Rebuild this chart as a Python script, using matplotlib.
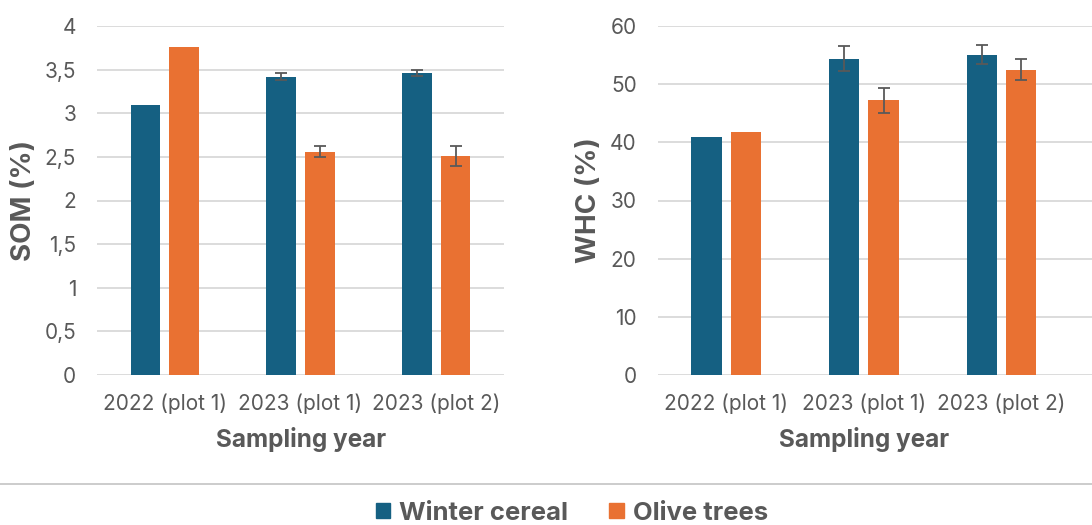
import matplotlib
matplotlib.use("Agg")
import matplotlib.pyplot as plt
import numpy as np
from matplotlib.lines import Line2D
from matplotlib.patches import Rectangle

categories = ["2022 (plot 1)", "2023 (plot 1)", "2023 (plot 2)"]
series = ["Winter cereal", "Olive trees"]
colors = ["#156082", "#E97132"]

som_winter = [3.10, 3.42, 3.46]
som_winter_err = [0, 0.04, 0.035]
som_olive = [3.76, 2.56, 2.51]
som_olive_err = [0, 0.06, 0.11]
som_ticks = [0, 0.5, 1, 1.5, 2, 2.5, 3, 3.5, 4]
som_ticklabels = ["0", "0,5", "1", "1,5", "2", "2,5", "3", "3,5", "4"]

whc_winter = [40.9, 54.4, 55.1]
whc_winter_err = [0, 2.2, 1.6]
whc_olive = [41.8, 47.2, 52.5]
whc_olive_err = [0, 2.1, 1.8]
whc_ticks = [0, 10, 20, 30, 40, 50, 60]
whc_ticklabels = ["0", "10", "20", "30", "40", "50", "60"]

plt.rcParams['font.family'] = ['Inter', 'DejaVu Sans']
TXT = "#595959"
GRID = "#d9d9d9"

W, H = 1092, 525
fig = plt.figure(figsize=(W / 100, H / 100), dpi=100)

def px_axes(x0, x1, ytop, ybot):
    return fig.add_axes([x0 / W, 1 - ybot / H, (x1 - x0) / W, (ybot - ytop) / H])

def draw(ax, winter, werr, olive, oerr, ticks, ticklabels, ylabel, ymax, xr,
         ylab_x, xlab_x):
    x = np.arange(len(categories))
    bw = 0.22
    off = 0.143
    ax.bar(x - off, winter, bw, color=colors[0], zorder=3)
    ax.bar(x + off, olive, bw, color=colors[1], zorder=3)
    for xs, vals, errs in [(x - off, winter, werr), (x + off, olive, oerr)]:
        for xi, v, e in zip(xs, vals, errs):
            if e > 0:
                ax.errorbar(xi, v, yerr=e, fmt='none', ecolor="#595959",
                            elinewidth=1.3, capsize=4, capthick=1.3, zorder=4)
    ax.set_ylim(0, ymax)
    ax.set_xlim(-0.5, xr)
    ax.set_yticks(ticks)
    ax.set_yticklabels(ticklabels)
    ax.set_xticks(x)
    ax.set_xticklabels(categories)
    for s in ax.spines.values():
        s.set_visible(False)
    ax.grid(axis='y', color=GRID, linewidth=1.3, zorder=0)
    ax.tick_params(axis='both', length=0, colors=TXT, labelsize=15)
    ax.tick_params(axis='y', pad=15)
    ax.tick_params(axis='x', pad=13)
    ax.set_ylabel(ylabel, fontsize=20, fontweight='bold', color=TXT)
    ax.set_xlabel("Sampling year", fontsize=17.5, fontweight='bold', color=TXT)
    ax.yaxis.set_label_coords(ylab_x, 0.5)
    ax.xaxis.set_label_coords(xlab_x, -0.186)
    ax.xaxis.label.set_verticalalignment('center')
    ax.yaxis.label.set_verticalalignment('center')

ax1 = px_axes(97, 504, 26, 375)
draw(ax1, som_winter, som_winter_err, som_olive, som_olive_err,
     som_ticks, som_ticklabels, "SOM (%)", 4, 2.5, -0.179, 0.501)

ax2 = px_axes(657.5, 1092, 26, 375)
draw(ax2, whc_winter, whc_winter_err, whc_olive, whc_olive_err,
     whc_ticks, whc_ticklabels, "WHC (%)", 60, -0.5 + 434.5 / 137.6, -0.158, 0.475)

# separator line
fig.add_artist(Line2D([0, 1], [1 - 484 / H, 1 - 484 / H], color="#c8c8c8", linewidth=1.3,
                      transform=fig.transFigure))

# legend
handles = [Rectangle((0, 0), 1, 1, color=c) for c in colors]
fig.legend(handles, series, loc='center', bbox_to_anchor=(572 / W, 1 - 513 / H),
           ncol=2, frameon=False, handlelength=0.55, handleheight=0.55,
           handletextpad=0.35, columnspacing=1.6,
           prop={'size': 18.5, 'weight': 'bold'}, labelcolor=TXT)

fig.savefig("out.png", dpi=100)
